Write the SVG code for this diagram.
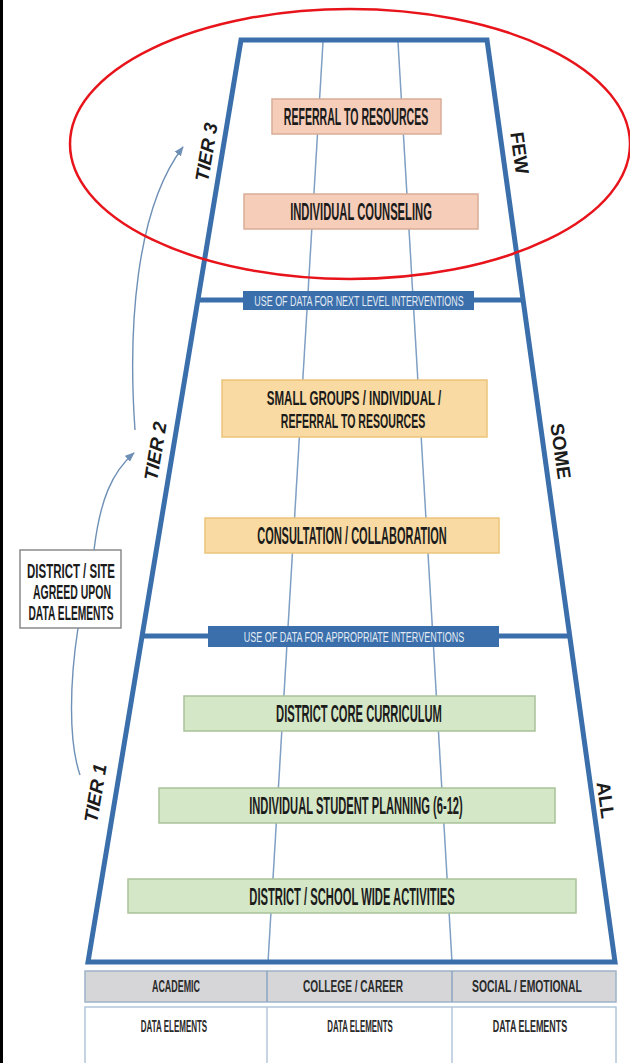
<svg xmlns="http://www.w3.org/2000/svg" width="630" height="1063" viewBox="0 0 630 1063">
<defs>
<style>
.frame{fill:none;stroke:#3a6fab;stroke-width:5;stroke-linejoin:miter}
.col{fill:none;stroke:#7f9fc4;stroke-width:1.5}
.bar{stroke:#3a6fab;stroke-width:5}
.barbox{fill:#3a6fab}
.bartxt{font-family:"Liberation Sans",Arial,sans-serif;font-size:15px;fill:#e3ebf4;text-anchor:middle}
.bt{font-family:"Liberation Sans",Arial,sans-serif;font-weight:bold;font-size:24px;fill:#1b1b1b;text-anchor:middle}
.bt2{font-family:"Liberation Sans",Arial,sans-serif;font-weight:bold;font-size:20px;fill:#1b1b1b;text-anchor:middle}
.peach{fill:#f5cdb9;stroke:#d9ad98;stroke-width:1.5}
.yel{fill:#f8daa2;stroke:#ecc47a;stroke-width:1.5}
.grn{fill:#d4e7c6;stroke:#a9c29a;stroke-width:1.5}
.tier{font-family:"Liberation Sans",Arial,sans-serif;font-weight:bold;font-style:italic;font-size:19px;fill:#1b1b1b;text-anchor:middle}
.amt{font-family:"Liberation Sans",Arial,sans-serif;font-weight:bold;font-size:19px;fill:#1b1b1b;text-anchor:middle}
.tab{font-family:"Liberation Sans",Arial,sans-serif;font-weight:bold;font-size:17px;fill:#2a2a2a;text-anchor:middle}
.tab2{font-family:"Liberation Sans",Arial,sans-serif;font-weight:bold;font-size:16px;fill:#2a2a2a;text-anchor:middle}
.side{font-family:"Liberation Sans",Arial,sans-serif;font-weight:bold;font-size:20px;fill:#1b1b1b;text-anchor:middle}
.conn{fill:none;stroke:#6f90b6;stroke-width:1.4}
</style>
<marker id="ah" viewBox="0 0 10 10" refX="9" refY="5" markerWidth="7" markerHeight="7" orient="auto">
<path d="M0,1 L10,5 L0,9 z" fill="#6f90b6"/>
</marker>
</defs>
<rect x="0" y="0" width="630" height="1063" fill="#ffffff"/>
<line x1="1.5" y1="0" x2="1.5" y2="1063" stroke="#000" stroke-width="3"/>

<g id="columns">
<line class="col" x1="323" y1="42" x2="268" y2="962"/>
<line class="col" x1="398" y1="42" x2="452" y2="962"/>
</g>

<g id="frame">
<polygon class="frame" points="241,40 487,40 615,962 88,962"/>
</g>

<g id="bar-next">
<line class="bar" x1="198" y1="300" x2="523" y2="300"/>
<rect class="barbox" x="243" y="291" width="231" height="19"/>
<text class="bartxt" transform="translate(359,306) scale(0.594,1)">USE OF DATA FOR NEXT LEVEL INTERVENTIONS</text>
</g>
<g id="bar-appropriate">
<line class="bar" x1="142" y1="636" x2="570" y2="636"/>
<rect class="barbox" x="208" y="626" width="291" height="21"/>
<text class="bartxt" transform="translate(354,642) scale(0.601,1)">USE OF DATA FOR APPROPRIATE INTERVENTIONS</text>
</g>

<g id="referral">
<rect class="peach" x="272" y="99" width="169" height="35"/>
<text class="bt" transform="translate(356,125) scale(0.44,1)">REFERRAL TO RESOURCES</text>
</g>
<g id="counseling">
<rect class="peach" x="244" y="194" width="234" height="35"/>
<text class="bt" transform="translate(361,220) scale(0.467,1)">INDIVIDUAL COUNSELING</text>
</g>
<g id="small-groups">
<rect class="yel" x="222" y="380" width="265" height="57"/>
<text class="bt2" transform="translate(354,405) scale(0.577,1)">SMALL GROUPS / INDIVIDUAL /</text>
<text class="bt2" transform="translate(353,428) scale(0.528,1)">REFERRAL TO RESOURCES</text>
</g>
<g id="consultation">
<rect class="yel" x="205" y="518" width="294" height="35"/>
<text class="bt" transform="translate(352,544) scale(0.458,1)">CONSULTATION / COLLABORATION</text>
</g>
<g id="core">
<rect class="grn" x="184" y="696" width="351" height="35"/>
<text class="bt" transform="translate(359,722) scale(0.466,1)">DISTRICT CORE CURRICULUM</text>
</g>
<g id="planning">
<rect class="grn" x="159" y="788" width="396" height="35"/>
<text class="bt" transform="translate(356,814) scale(0.465,1)">INDIVIDUAL STUDENT PLANNING (6-12)</text>
</g>
<g id="activities">
<rect class="grn" x="128" y="879" width="448" height="34"/>
<text class="bt" transform="translate(352,905) scale(0.467,1)">DISTRICT / SCHOOL WIDE ACTIVITIES</text>
</g>

<g id="tiers">
<text class="tier" transform="translate(206,152) rotate(-80.6)" y="7">TIER 3</text>
<text class="tier" transform="translate(155,451) rotate(-80.6)" y="7">TIER 2</text>
<text class="tier" transform="translate(95,793) rotate(-80.6)" y="7">TIER 1</text>
</g>
<g id="amounts">
<text class="amt" transform="translate(520,153) rotate(82)" y="7">FEW</text>
<text class="amt" transform="translate(561,451) rotate(82)" y="7">SOME</text>
<text class="amt" transform="translate(606,800) rotate(82)" y="7">ALL</text>
</g>

<g id="data-box">
<rect x="20" y="550" width="101" height="78" fill="#fff" stroke="#8a8a8a" stroke-width="1.5"/>
<text class="side" transform="translate(71,578) scale(0.574,1)">DISTRICT / SITE</text>
<text class="side" transform="translate(72,599) scale(0.524,1)">AGREED UPON</text>
<text class="side" transform="translate(71,620) scale(0.512,1)">DATA ELEMENTS</text>
</g>

<g id="connectors">
<path class="conn" d="M94,550 C100,500 112,472 134,453" marker-end="url(#ah)"/>
<path class="conn" d="M135,430 C128,330 135,210 183,147" marker-end="url(#ah)"/>
<path class="conn" d="M78,628 C70,680 68,740 80,775"/>
</g>

<g id="domains">
<rect x="85" y="971" width="531" height="31" fill="#d6d6d8" stroke="#9fb3c8" stroke-width="1.5"/>
<line x1="267" y1="971" x2="267" y2="1002" stroke="#8aa5c3" stroke-width="1.5"/>
<line x1="452" y1="971" x2="452" y2="1002" stroke="#8aa5c3" stroke-width="1.5"/>
<text class="tab" transform="translate(176,992) scale(0.524,1)">ACADEMIC</text>
<text class="tab" transform="translate(353,992) scale(0.595,1)">COLLEGE / CAREER</text>
<text class="tab" transform="translate(527,992) scale(0.61,1)">SOCIAL / EMOTIONAL</text>
</g>
<g id="data-elements">
<rect x="85" y="1007" width="531" height="60" fill="#fff" stroke="#b3c6da" stroke-width="1.5"/>
<line x1="267" y1="1007" x2="267" y2="1063" stroke="#b3c6da" stroke-width="1.5"/>
<line x1="452" y1="1007" x2="452" y2="1063" stroke="#b3c6da" stroke-width="1.5"/>
<text class="tab2" transform="translate(174,1032) scale(0.5,1)">DATA ELEMENTS</text>
<text class="tab2" transform="translate(360,1032) scale(0.493,1)">DATA ELEMENTS</text>
<text class="tab2" transform="translate(530,1032) scale(0.559,1)">DATA ELEMENTS</text>
</g>

<g id="highlight">
<ellipse cx="350" cy="144" rx="280" ry="135" fill="none" stroke="#e8141b" stroke-width="2.5"/>
</g>
</svg>
